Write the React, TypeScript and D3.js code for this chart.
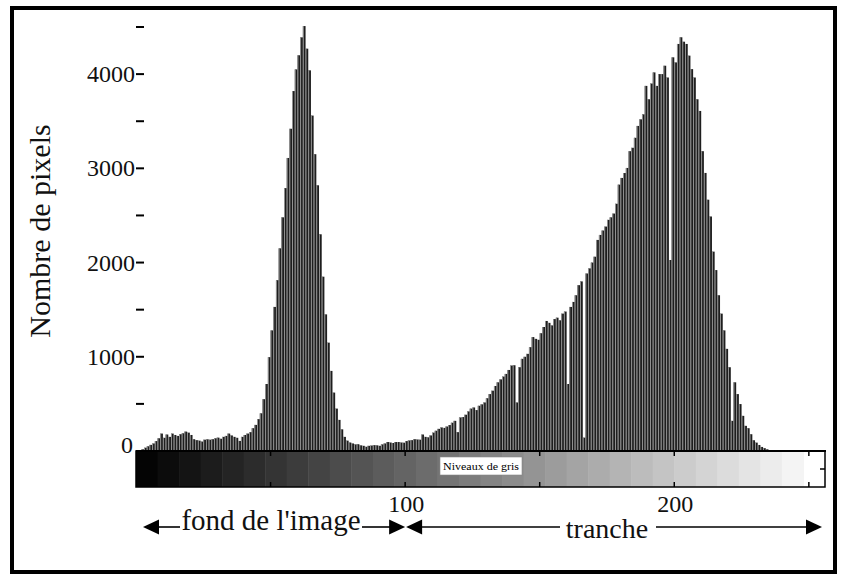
import React from "react";
import * as d3 from "d3";

// Histogram of grey levels (0..255): number of pixels per level
const counts: number[] = [
  5, 10, 18, 35, 50, 65, 80, 105, 135, 185,
  140, 175, 150, 185, 170, 160, 178, 188, 206, 195,
  170, 125, 115, 110, 100, 120, 124, 120, 125, 135,
  142, 130, 150, 160, 185, 165, 150, 140, 107, 150,
  170, 185, 200, 242, 277, 338, 400, 550, 711, 996,
  1280, 1529, 1813, 2151, 2480, 2790, 3110, 3420, 3820, 4050,
  4200, 4390, 4510, 4270, 4040, 3560, 3150, 2820, 2300, 1850,
  1450, 1150, 850, 620, 450, 330, 230, 150, 110, 90,
  80, 70, 72, 60, 55, 45, 55, 58, 62, 60,
  55, 70, 80, 95, 90, 85, 95, 95, 90, 88,
  105, 112, 115, 125, 122, 120, 175, 150, 145, 165,
  195, 215, 235, 250, 245, 260, 275, 300, 320, 200,
  356, 360, 385, 420, 450, 462, 434, 480, 495, 515,
  560, 604, 640, 690, 729, 760, 790, 818, 860, 907,
  910, 515, 889, 978, 1000, 1031, 1102, 1209, 1190, 1180,
  1250, 1316, 1380, 1360, 1333, 1400, 1415, 1387, 1458, 1480,
  711, 1529, 1582, 1653, 1760, 1800, 142, 1884, 1938, 2000,
  2062, 2240, 2293, 2340, 2382, 2453, 2480, 2520, 2624, 2827,
  2898, 2950, 3004, 3182, 3218, 3324, 3450, 3520, 3573, 3875,
  3733, 3900, 4018, 3875, 4000, 4000, 4089, 3964, 2027, 4178,
  4124, 4320, 4391, 4344, 4320, 4196, 4053, 3964, 3733, 3609,
  3182, 2951, 2667, 2489, 2116, 1920, 1653, 1458, 1280, 1084,
  889, 320, 729, 604, 498, 373, 267, 242, 178, 114,
  89, 64, 43, 30, 18, 10, 7, 0, 0, 0,
  0, 0, 0, 0, 0, 0, 0, 0, 0, 0,
  0, 0, 0, 0, 0, 0,
];
const levels: number[] = counts.map((_, i) => i);

const yTicks: number[] = [0, 500, 1000, 1500, 2000, 2500, 3000, 3500, 4000, 4500];
const yLabelled: number[] = [0, 1000, 2000, 3000, 4000];
const xTickMarks: number[] = [50, 100, 150, 200, 250];
const xLabels: number[] = [100, 200];
const yTitle = "Nombre de pixels";
const barTitle = "Niveaux de gris";
const zoneLeft = "fond de l'image";
const zoneRight = "tranche";
const zoneSplit = 100;

const W = 843;
const H = 579;
const serif = "'Liberation Serif', 'DejaVu Serif', serif";

export default function App() {
  const x = d3.scaleLinear().domain([0, 256]).range([136, 825]);
  const y = d3.scaleLinear().domain([0, 4500]).range([451, 27]);
  const barTop = y(0);
  const barBottom = 487;
  const steps = d3.range(0, 248, 8);
  const arrowY = 527;
  const arrow = (tip: number, dir: number) => {
    const base = tip - dir * 16;
    return `M${tip},${arrowY} L${base},${arrowY - 7.5} L${base},${arrowY + 7.5} Z`;
  };
  const xSplit = x(zoneSplit);

  return (
    <svg
      width={W}
      height={H}
      style={{ position: "fixed", left: 0, top: 0, background: "#fff" }}
    >
      <rect x={0} y={0} width={W} height={H} fill="#fff" />
      <rect x={12} y={8} width={823} height={564} fill="none" stroke="#000" strokeWidth={4} />

      {/* histogram bars */}
      <g>
        {levels.map((lv) => {
          const v = counts[lv];
          if (v <= 0) return null;
          const x0 = x(lv);
          const w = x(lv + 1) - x(lv);
          return (
            <g key={lv}>
              <rect x={x0} y={y(v)} width={w} height={barTop - y(v)} fill="#1e1e1e" />
              <rect x={x0} y={y(v)} width={0.9} height={barTop - y(v)} fill="#9c9c9c" />
            </g>
          );
        })}
      </g>

      {/* y axis ticks */}
      <g>
        {yTicks.map((t) => (
          <line
            key={t}
            x1={136}
            x2={144}
            y1={y(t)}
            y2={y(t)}
            stroke="#000"
            strokeWidth={t === 0 ? 0 : 2}
          />
        ))}
        {yLabelled.map((t) => (
          <text
            key={t}
            x={t === 0 ? 133 : 135}
            y={t === 0 ? y(t) - 6 : y(t)}
            dy="0.34em"
            textAnchor="end"
            fontFamily={serif}
            fontSize={24}
            fill="#111"
          >
            {t}
          </text>
        ))}
      </g>

      <text
        transform={`translate(50,231) rotate(-90)`}
        textAnchor="middle"
        fontFamily={serif}
        fontSize={30}
        fill="#111"
      >
        {yTitle}
      </text>

      {/* grey-level bar */}
      <g>
        {steps.map((s) => (
          <rect
            key={s}
            x={x(s)}
            y={barTop}
            width={x(s + 8) - x(s) + 0.5}
            height={barBottom - barTop}
            fill={d3.rgb(s + 4, s + 4, s + 4).toString()}
          />
        ))}
        <rect
          x={x(0)}
          y={barTop}
          width={x(256) - x(0)}
          height={barBottom - barTop}
          fill="none"
          stroke="#000"
          strokeWidth={1.5}
        />
        <line x1={x(0)} x2={x(256) + 1} y1={barTop} y2={barTop} stroke="#000" strokeWidth={2} />
        {xTickMarks.map((t) => (
          <g key={t}>
            <line x1={x(t)} x2={x(t)} y1={barTop} y2={barTop + 5} stroke="#000" strokeWidth={1.5} />
            <line x1={x(t)} x2={x(t)} y1={barBottom - 5} y2={barBottom} stroke="#000" strokeWidth={1.5} />
          </g>
        ))}
        <line
          x1={x(256) - 5}
          x2={x(256)}
          y1={(barTop + barBottom) / 2}
          y2={(barTop + barBottom) / 2}
          stroke="#000"
          strokeWidth={1.5}
        />
        <rect x={440} y={457} width={82} height={18} fill="#fff" stroke="#888" strokeWidth={0.6} />
        <text
          x={481}
          y={469.5}
          textAnchor="middle"
          fontFamily={serif}
          fontSize={10}
          textLength={76}
          lengthAdjust="spacingAndGlyphs"
          fill="#000"
        >
          {barTitle}
        </text>
      </g>

      {/* x labels */}
      {xLabels.map((t) => (
        <text
          key={t}
          x={x(t) + 1}
          y={512}
          textAnchor="middle"
          fontFamily={serif}
          fontSize={24}
          fill="#111"
        >
          {t}
        </text>
      ))}

      {/* zone annotations */}
      <g stroke="#000" strokeWidth={1.6}>
        <line x1={x(0) + 20} x2={180} y1={arrowY} y2={arrowY} />
        <line x1={362} x2={xSplit - 14} y1={arrowY} y2={arrowY} />
        <line x1={xSplit + 16} x2={560} y1={arrowY} y2={arrowY} />
        <line x1={656} x2={x(256) - 18} y1={arrowY} y2={arrowY} />
      </g>
      <path d={arrow(x(0) + 7, -1)} fill="#000" />
      <path d={arrow(xSplit, 1)} fill="#000" />
      <path d={arrow(xSplit + 1, -1)} fill="#000" />
      <path d={arrow(x(256) - 3, 1)} fill="#000" />
      <text
        x={271}
        y={530}
        textAnchor="middle"
        fontFamily={serif}
        fontSize={29}
        fill="#111"
      >
        {zoneLeft}
      </text>
      <text
        x={607}
        y={538}
        textAnchor="middle"
        fontFamily={serif}
        fontSize={28}
        fill="#111"
      >
        {zoneRight}
      </text>
    </svg>
  );
}
